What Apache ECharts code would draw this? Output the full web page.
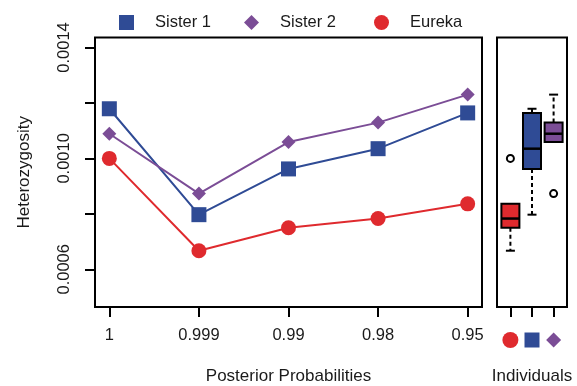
<!DOCTYPE html>
<html><head><meta charset="utf-8">
<script src="https://cdn.jsdelivr.net/npm/echarts@6/dist/echarts.min.js"></script>
<style>html,body{margin:0;padding:0;background:#fff}#c{width:577px;height:386px}</style>
</head><body><div id="c"></div>
<script>
// ---- data ----
const categories = ['1', '0.999', '0.99', '0.98', '0.95'];
const sister1 = [0.001179, 0.000797, 0.000962, 0.001035, 0.001164];
const sister2 = [0.001089, 0.000873, 0.001059, 0.001129, 0.001230];
const eureka  = [0.001000, 0.000667, 0.000750, 0.000783, 0.000836];
const yTicks = [0.0006, 0.0008, 0.0010, 0.0012, 0.0014];
const yTickLabels = [0.0006, 0.0010, 0.0014];
const individuals = ['Eureka', 'Sister 1', 'Sister 2'];
const yLim = [0.0005, 0.0014];

// ---- styles ----
const RED = '#DF2A2E', BLUE = '#2F4B95', PURPLE = '#7B4D96';
const TXT = '#1a1a1a';
const FONT = 'Liberation Sans, Arial, sans-serif';

// R-like 4% axis extension
const ext = (a, b) => { const d = (b - a) * 0.04; return [a - d, b + d]; };
const yR = ext(yLim[0], yLim[1]);
const xR = ext(0, categories.length - 1);
const bxR = ext(-0.5, individuals.length - 0.5);

function fivenum(arr) {
  const s = [...arr].sort((a, b) => a - b); const n = s.length;
  const n4 = Math.floor((n + 3) / 2) / 2;
  const d = [1, n4, (n + 1) / 2, n + 1 - n4, n];
  return d.map(i => 0.5 * (s[Math.floor(i) - 1] + s[Math.ceil(i) - 1]));
}
function boxStats(arr) {
  const f = fivenum(arr); const iqr = f[3] - f[1];
  const lo = f[1] - 1.5 * iqr, hi = f[3] + 1.5 * iqr;
  const inside = arr.filter(v => v >= lo && v <= hi);
  return { lo: Math.min(...inside), q1: f[1], med: f[2], q3: f[3], hi: Math.max(...inside),
           out: arr.filter(v => v < lo || v > hi) };
}
const groups = [eureka, sister1, sister2];
const stats = groups.map(boxStats);
const boxData = stats.map((s, i) => [i, s.lo, s.q1, s.med, s.q3, s.hi]);
const outData = [];
stats.forEach((s, i) => s.out.forEach(v => outData.push([i, v])));
const boxColors = [RED, BLUE, PURPLE];
const boxSymbols = ['circle', 'rect', 'diamond'];

const pairs = arr => arr.map((v, i) => [i, v]);
const tickStyle = { color: '#000', width: 2 };

const chart = echarts.init(document.getElementById('c'));
const legendBase = { top: 14, padding: 0, itemWidth: 15, itemHeight: 15,
  textStyle: { fontFamily: FONT, fontSize: 16.5, color: TXT, padding: [0, 0, 0, 16] } };
const gridBase = { show: true, borderColor: '#000', borderWidth: 2, backgroundColor: 'transparent',
  containLabel: false, outerBoundsMode: 'none' };
chart.setOption({
  animation: false,
  backgroundColor: '#fff',
  textStyle: { fontFamily: FONT },
  legend: [
    Object.assign({ left: 119, data: [{ name: 'Sister 1', icon: 'rect' }] }, legendBase),
    Object.assign({ left: 244, data: [{ name: 'Sister 2', icon: 'diamond' }] }, legendBase),
    Object.assign({ left: 374, data: [{ name: 'Eureka', icon: 'circle' }] }, legendBase)
  ],
  grid: [
    Object.assign({ left: 95, top: 37.5, width: 387, height: 269.5 }, gridBase),
    Object.assign({ left: 497, top: 37.5, width: 70, height: 269.5 }, gridBase),
    { left: 497, top: 332, width: 70, height: 16, outerBoundsMode: 'none' }
  ],
  xAxis: [
    { gridIndex: 0, type: 'value', min: xR[0], max: xR[1],
      axisLine: { show: false, onZero: false }, splitLine: { show: false },
      axisTick: { customValues: categories.map((c, i) => i), length: 10, lineStyle: tickStyle },
      axisLabel: { customValues: categories.map((c, i) => i), formatter: v => categories[Math.round(v)],
        margin: 20, fontSize: 16.5, color: TXT, fontFamily: FONT },
      name: 'Posterior Probabilities', nameLocation: 'middle', nameGap: 61,
      nameTextStyle: { fontSize: 17, color: TXT, fontFamily: FONT } },
    { gridIndex: 1, type: 'value', min: bxR[0], max: bxR[1],
      axisLine: { show: false, onZero: false }, splitLine: { show: false },
      axisTick: { customValues: individuals.map((c, i) => i), length: 10, lineStyle: tickStyle },
      axisLabel: { show: false },
      name: 'Individuals', nameLocation: 'middle', nameGap: 61,
      nameTextStyle: { fontSize: 17, color: TXT, fontFamily: FONT } },
    { gridIndex: 2, type: 'value', min: bxR[0], max: bxR[1], show: false }
  ],
  yAxis: [
    { gridIndex: 0, type: 'value', min: yR[0], max: yR[1],
      axisLine: { show: false, onZero: false }, splitLine: { show: false },
      axisTick: { customValues: yTicks, length: 10, lineStyle: tickStyle },
      axisLabel: { customValues: yTickLabels, rotate: 90, formatter: v => v.toFixed(4),
        margin: 22, fontSize: 16.5, color: TXT, fontFamily: FONT },
      name: 'Heterozygosity', nameLocation: 'middle', nameRotate: 90, nameGap: 62,
      nameTextStyle: { fontSize: 17, color: TXT, fontFamily: FONT } },
    { gridIndex: 1, type: 'value', min: yR[0], max: yR[1], show: false },
    { gridIndex: 2, type: 'value', min: -1, max: 1, show: false }
  ],
  series: [
    { name: 'Sister 1', type: 'line', xAxisIndex: 0, yAxisIndex: 0, data: pairs(sister1),
      symbol: 'rect', symbolSize: 15, color: BLUE, lineStyle: { width: 2, color: BLUE },
      itemStyle: { color: BLUE }, z: 3 },
    { name: 'Sister 2', type: 'line', xAxisIndex: 0, yAxisIndex: 0, data: pairs(sister2),
      symbol: 'diamond', symbolSize: 14, color: PURPLE, lineStyle: { width: 2, color: PURPLE },
      itemStyle: { color: PURPLE }, z: 3 },
    { name: 'Eureka', type: 'line', xAxisIndex: 0, yAxisIndex: 0, data: pairs(eureka),
      symbol: 'circle', symbolSize: 15, color: RED, lineStyle: { width: 2, color: RED },
      itemStyle: { color: RED }, z: 3 },
    { type: 'custom', xAxisIndex: 1, yAxisIndex: 1, data: boxData,
      encode: { x: 0, y: [1, 2, 3, 4, 5] },
      renderItem: function (params, api) {
        const x = api.value(0);
        const p = k => api.coord([x, api.value(k)]);
        const lo = p(1), q1 = p(2), md = p(3), q3 = p(4), hi = p(5);
        const cx = lo[0], hw = 9, cw = 4.5;
        const blk = { stroke: '#000', lineWidth: 2 };
        const dash = { stroke: '#000', lineWidth: 2, lineDash: [4, 3] };
        const ch = [];
        if (hi[1] < q3[1] - 0.5) {
          ch.push({ type: 'line', shape: { x1: cx, y1: q3[1], x2: cx, y2: hi[1] }, style: dash });
          ch.push({ type: 'line', shape: { x1: cx - cw, y1: hi[1], x2: cx + cw, y2: hi[1] }, style: blk });
        }
        if (lo[1] > q1[1] + 0.5) {
          ch.push({ type: 'line', shape: { x1: cx, y1: q1[1], x2: cx, y2: lo[1] }, style: dash });
          ch.push({ type: 'line', shape: { x1: cx - cw, y1: lo[1], x2: cx + cw, y2: lo[1] }, style: blk });
        }
        ch.push({ type: 'rect', shape: { x: cx - hw, y: q3[1], width: 2 * hw, height: q1[1] - q3[1] },
          style: { fill: boxColors[params.dataIndex], stroke: '#000', lineWidth: 2 } });
        ch.push({ type: 'line', shape: { x1: cx - hw, y1: md[1], x2: cx + hw, y2: md[1] },
          style: { stroke: '#000', lineWidth: 2.5 } });
        return { type: 'group', children: ch };
      } },
    { type: 'scatter', xAxisIndex: 1, yAxisIndex: 1, data: outData, symbol: 'circle', symbolSize: 7,
      itemStyle: { color: '#fff', borderColor: '#000', borderWidth: 2, opacity: 1 }, z: 4 },
    { type: 'scatter', xAxisIndex: 2, yAxisIndex: 2,
      data: individuals.map((n, i) => ({ value: [i, 0], symbol: boxSymbols[i],
        symbolSize: boxSymbols[i] === 'diamond' ? 15 : (boxSymbols[i] === 'rect' ? 15 : 16),
        itemStyle: { color: boxColors[i], opacity: 1 } })) }
  ]
});
</script></body></html>
